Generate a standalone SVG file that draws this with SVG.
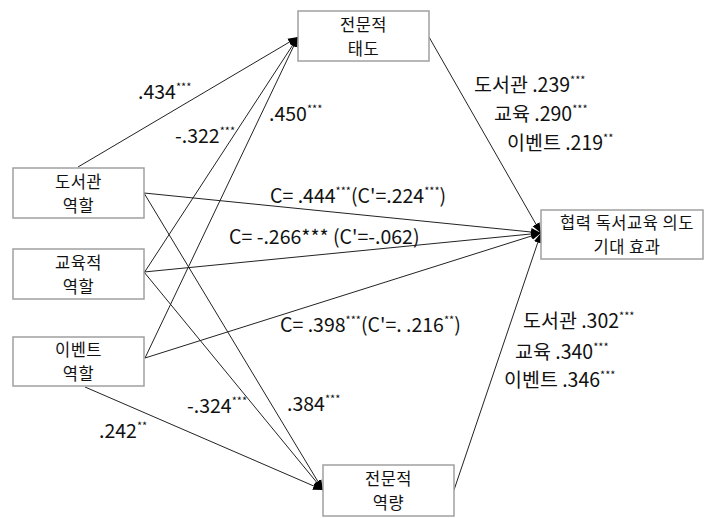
<svg xmlns="http://www.w3.org/2000/svg" width="705" height="518" viewBox="0 0 705 518">
<style>
.box{fill:#fff;stroke:#a0a0a0;stroke-width:1.5}
.bt{font-family:"Noto Sans CJK KR","Noto Sans",sans-serif;font-size:16.5px;fill:#111;text-anchor:middle;letter-spacing:0.5px}
.lb{font-family:"Noto Sans CJK KR","Noto Sans",sans-serif;font-size:19.5px;fill:#111}
.sup{font-size:11px}
.ln{stroke:#222;stroke-width:1;fill:none;marker-end:url(#ah)}
</style>
<defs>
<marker id="ah" markerUnits="userSpaceOnUse" markerWidth="10" markerHeight="10" viewBox="0 0 10 10" refX="10" refY="5" orient="auto">
<path d="M0,1 L10,5 L0,9 Z" fill="#000"/>
</marker>
</defs>
<rect width="705" height="518" fill="#fff"/>
<g id="connectors">
<line class="ln" x1="78" y1="167" x2="298" y2="37"/>
<line class="ln" x1="144" y1="273" x2="298" y2="37"/>
<line class="ln" x1="145" y1="358" x2="298" y2="37"/>
<line class="ln" x1="429" y1="37" x2="541" y2="233"/>
<line class="ln" x1="144" y1="193" x2="541" y2="233"/>
<line class="ln" x1="144" y1="272" x2="541" y2="233"/>
<line class="ln" x1="145" y1="358" x2="541" y2="233"/>
<line class="ln" x1="454" y1="490" x2="541" y2="233"/>
<line class="ln" x1="144" y1="193" x2="323" y2="490"/>
<line class="ln" x1="144" y1="272" x2="323" y2="490"/>
<line class="ln" x1="85" y1="387" x2="323" y2="490"/>
</g>
<g id="attitude">
<rect class="box" x="298" y="11" width="131" height="50"/>
<text class="bt"><tspan x="363.5" y="30.5">전문적</tspan><tspan x="363.5" y="54.5">태도</tspan></text>
</g>
<g id="library">
<rect class="box" x="13" y="168" width="131" height="50"/>
<text class="bt"><tspan x="78.5" y="187.5">도서관</tspan><tspan x="78.5" y="211.5">역할</tspan></text>
</g>
<g id="education">
<rect class="box" x="13" y="249" width="131" height="50"/>
<text class="bt"><tspan x="78.5" y="268.5">교육적</tspan><tspan x="78.5" y="292.5">역할</tspan></text>
</g>
<g id="event">
<rect class="box" x="13" y="337" width="131" height="49"/>
<text class="bt"><tspan x="78.5" y="356">이벤트</tspan><tspan x="78.5" y="380">역할</tspan></text>
</g>
<g id="competence">
<rect class="box" x="323" y="465" width="131" height="51"/>
<text class="bt"><tspan x="388.5" y="485">전문적</tspan><tspan x="388.5" y="509">역량</tspan></text>
</g>
<g id="effect">
<rect class="box" x="541" y="210" width="162" height="49"/>
<text class="bt"><tspan x="627" y="228.5">협력 독서교육 의도</tspan><tspan x="627" y="252.5">기대 효과</tspan></text>
</g>
<g id="labels">
<text class="lb" x="138" y="99">.434<tspan class="sup" dy="-8">***</tspan></text>
<text class="lb" x="175" y="143">-.322<tspan class="sup" dy="-8">***</tspan></text>
<text class="lb" x="269" y="121">.450<tspan class="sup" dy="-8">***</tspan></text>
<text class="lb" x="474" y="92">도서관 .239<tspan class="sup" dy="-8">***</tspan></text>
<text class="lb" x="494" y="121">교육 .290<tspan class="sup" dy="-8">***</tspan></text>
<text class="lb" x="507" y="150">이벤트 .219<tspan class="sup" dy="-8">**</tspan></text>
<text class="lb" x="270" y="203">C= .444<tspan class="sup" dy="-8">***</tspan><tspan dy="8">(C'=.224</tspan><tspan class="sup" dy="-8">***</tspan><tspan dy="8">)</tspan></text>
<text class="lb" x="229" y="244">C= -.266*** (C'=-.062)</text>
<text class="lb" x="280" y="332">C= .398<tspan class="sup" dy="-8">***</tspan><tspan dy="8">(C'=. .216</tspan><tspan class="sup" dy="-8">**</tspan><tspan dy="8">)</tspan></text>
<text class="lb" x="523" y="328">도서관 .302<tspan class="sup" dy="-8">***</tspan></text>
<text class="lb" x="515" y="359">교육 .340<tspan class="sup" dy="-8">***</tspan></text>
<text class="lb" x="504" y="387">이벤트 .346<tspan class="sup" dy="-8">***</tspan></text>
<text class="lb" x="187" y="413">-.324<tspan class="sup" dy="-8">***</tspan></text>
<text class="lb" x="287" y="411">.384<tspan class="sup" dy="-8">***</tspan></text>
<text class="lb" x="99" y="438">.242<tspan class="sup" dy="-8">**</tspan></text>
</g>
</svg>
